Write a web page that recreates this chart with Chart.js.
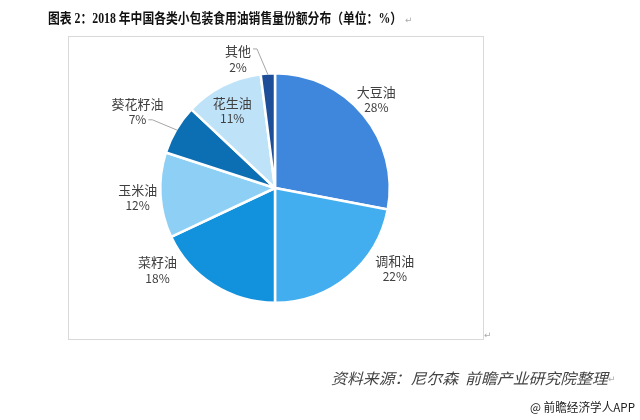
<!DOCTYPE html>
<html>
<head>
<meta charset="utf-8">
<script src="https://cdn.jsdelivr.net/npm/chart.js@4/dist/chart.umd.min.js"></script>
<style>
html,body{margin:0;padding:0;background:#fff;}
canvas{display:block;}
</style>
</head>
<body>
<canvas id="c" width="640" height="420"></canvas>
<script>
// ---- data ----
const categories = ['大豆油', '调和油', '菜籽油', '玉米油', '葵花籽油', '花生油', '其他'];
const shares = [28, 22, 18, 12, 7, 11, 2];
const sliceColors = ['#3F87DC', '#42AEEF', '#1292DC', '#8ED0F5', '#0C6FB3', '#BEE3F8', '#1F4E98'];
const titleText = '图表 2：2018 年中国各类小包装食用油销售量份额分布（单位：%）';
const sourceText = '资料来源：尼尔森  前瞻产业研究院整理';
const watermarkText = '@ 前瞻经济学人APP';

// label layout (relative to each slice's own geometry)
const labelAngleShift = [-1.4, -16.4, 22.6, -0.4, -1.6, -2, -12.4]; // degrees from mid-angle
const labelRadius = [1.17, 1.26, 1.25, 1.20, 1.37, 0.77, 1.17];      // multiples of outer radius
const leaderFor = [false, false, false, false, true, false, true];

const CJK = "'Noto Sans CJK SC','Microsoft YaHei',sans-serif";

function fitText(ctx, text, x, y, width) {
  const w = ctx.measureText(text).width;
  ctx.save();
  ctx.translate(x, y);
  ctx.scale(width / w, 1);
  ctx.fillText(text, 0, 0);
  ctx.restore();
}

const decor = {
  id: 'decor',
  beforeDraw(chart) {
    const ctx = chart.ctx;
    ctx.save();
    ctx.fillStyle = '#fff';
    ctx.fillRect(0, 0, chart.width, chart.height);
    // frame
    ctx.strokeStyle = '#D9D9D9';
    ctx.lineWidth = 1;
    ctx.strokeRect(68.5, 36.5, 415, 303);
    // title
    ctx.fillStyle = '#111';
    ctx.font = "bold 14px 'Liberation Serif'," + CJK;
    ctx.textBaseline = 'middle';
    ctx.textAlign = 'left';
    fitText(ctx, titleText, 48, 19, 354);
    ctx.fillStyle = '#AAA';
    ctx.font = "9px 'DejaVu Sans'";
    ctx.fillText('↵', 405, 21);
    ctx.fillText('↵', 484, 336);
    // source
    ctx.fillStyle = '#444';
    ctx.font = "italic 15px " + CJK;
    fitText(ctx, sourceText, 331, 378, 277);
    ctx.fillStyle = '#AAA';
    ctx.font = "9px 'DejaVu Sans'";
    ctx.fillText('↵', 608, 380);
    // watermark
    ctx.fillStyle = '#222';
    ctx.font = "12px " + CJK;
    fitText(ctx, watermarkText, 530, 407, 105);
    ctx.restore();
  },
  afterDatasetsDraw(chart) {
    const ctx = chart.ctx;
    const meta = chart.getDatasetMeta(0);
    const total = shares.reduce((a, b) => a + b, 0);
    ctx.save();
    meta.data.forEach((arc, i) => {
      const p = arc.getProps(['x', 'y', 'startAngle', 'endAngle', 'outerRadius'], true);
      const mid = (p.startAngle + p.endAngle) / 2;
      const a = mid + labelAngleShift[i] * Math.PI / 180;
      const r = p.outerRadius * labelRadius[i];
      const lx = p.x + Math.cos(a) * r;
      const ly = p.y + Math.sin(a) * r;
      const pct = Math.round(shares[i] / total * 100) + '%';
      ctx.fillStyle = '#404040';
      ctx.textAlign = 'center';
      ctx.textBaseline = 'middle';
      ctx.font = "13px " + CJK;
      ctx.fillText(categories[i], lx, ly - 8);
      ctx.font = "12px " + CJK;
      ctx.fillText(pct, lx, ly + 8);
      if (leaderFor[i]) {
        ctx.font = "13px " + CJK;
        const nameW = ctx.measureText(categories[i]).width;
        ctx.font = "12px " + CJK;
        const pctW = ctx.measureText(pct).width;
        const ex = p.x + Math.cos(mid) * (p.outerRadius - 1);
        const ey = p.y + Math.sin(mid) * (p.outerRadius - 1);
        let sx, sy;
        if (i === 6) { sx = lx + nameW / 2 + 2; sy = ly - 10; }
        else { sx = lx + pctW / 2 + 2; sy = ly + 8; }
        ctx.strokeStyle = '#A6A6A6';
        ctx.lineWidth = 1;
        ctx.beginPath();
        ctx.moveTo(sx, sy);
        ctx.lineTo(sx + 4, sy);
        ctx.lineTo(ex, ey);
        ctx.stroke();
      }
    });
    ctx.restore();
  }
};

new Chart(document.getElementById('c'), {
  type: 'pie',
  data: {
    labels: categories,
    datasets: [{
      data: shares,
      backgroundColor: sliceColors,
      borderColor: '#ffffff',
      borderWidth: 2.5
    }]
  },
  options: {
    responsive: false,
    animation: false,
    events: [],
    layout: { padding: { left: 159, right: 249, top: 72, bottom: 116 } },
    plugins: {
      legend: { display: false },
      tooltip: { enabled: false },
      title: { display: false }
    }
  },
  plugins: [decor]
});
</script>
</body>
</html>
